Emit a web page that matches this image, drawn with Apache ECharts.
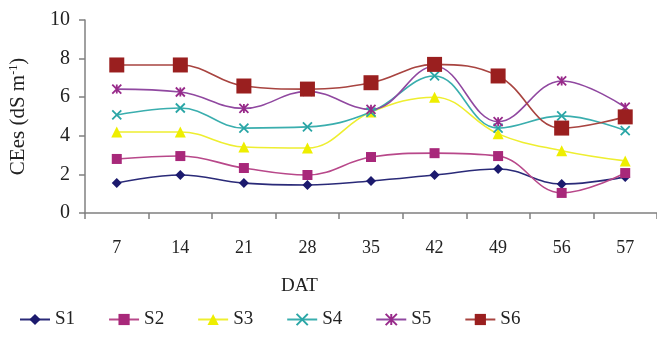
<!DOCTYPE html>
<html><head><meta charset="utf-8">
<script src="https://cdn.jsdelivr.net/npm/echarts@6/dist/echarts.min.js"></script>
<style>html,body{margin:0;padding:0;background:#fff}#c{width:657px;height:337px}</style>
</head><body><div id="c"></div>
<script>
const categories = ['7','14','21','28','35','42','49','56','57'];
const S1 = [1.55, 1.97, 1.55, 1.45, 1.66, 1.97, 2.28, 1.5, 1.87];
const S2 = [2.8, 2.95, 2.33, 1.97, 2.9, 3.1, 2.95, 1.04, 2.07];
const S3 = [4.2, 4.2, 3.42, 3.37, 5.23, 6.0, 4.1, 3.23, 2.7];
const S4 = [5.08, 5.44, 4.4, 4.46, 5.23, 7.1, 4.4, 5.03, 4.27];
const S5 = [6.42, 6.27, 5.42, 6.3, 5.37, 7.6, 4.73, 6.84, 5.48];
const S6 = [7.67, 7.67, 6.58, 6.42, 6.75, 7.7, 7.1, 4.4, 4.98];
const yTicks = [0, 2, 4, 6, 8, 10];
const xTitle = 'DAT';

const font = 'Liberation Serif';
const X = 'path://M0,0L10,10M10,0L0,10';
const AST = 'path://M0,0L10,10M10,0L0,10M5,0L5,10';

function s(name, data, lineColor, markColor, symbol, size, stroke) {
  return {
    name, type: 'line', data, smooth: 0.4,
    symbol, symbolSize: size,
    lineStyle: { color: lineColor, width: 1.6 },
    itemStyle: stroke
      ? { color: markColor, borderColor: markColor, borderWidth: 1.8 }
      : { color: markColor, borderWidth: 0 },
    z: 2
  };
}

const chart = echarts.init(document.getElementById('c'), null, { renderer: 'canvas' });
chart.setOption({
  animation: false,
  backgroundColor: '#fff',
  textStyle: { fontFamily: font },
  grid: { left: 85, top: 20, width: 576, height: 193, containLabel: false },
  legend: {
    left: 19, top: 310, padding: 0, itemWidth: 30, itemHeight: 14, itemGap: 33,
    textStyle: { fontFamily: font, fontSize: 19, color: '#222' },
    data: ['S1','S2','S3','S4','S5','S6']
  },
  graphic: [{
    type: 'text', left: 281, top: 277,
    style: { text: xTitle, fontFamily: font, fontSize: 19, fill: '#222' }
  }],
  xAxis: {
    type: 'category', data: categories, boundaryGap: true,
    axisLine: { lineStyle: { color: '#808080', width: 1.5 } },
    axisTick: { show: true, alignWithLabel: false, length: 6, lineStyle: { color: '#808080', width: 1.5 } },
    axisLabel: { fontFamily: font, fontSize: 18, color: '#222', margin: 26 }
  },
  yAxis: {
    type: 'value', min: yTicks[0], max: yTicks[yTicks.length - 1], interval: 2,
    name: 'CEes (dS m{sup|-1})', nameLocation: 'middle', nameGap: 56,
    nameTextStyle: {
      fontFamily: font, fontSize: 21, color: '#222',
      rich: { sup: { fontFamily: font, fontSize: 12, color: '#222', verticalAlign: 'top', padding: [0, 0, 9, 0] } }
    },
    splitLine: { show: false },
    axisLine: { show: true, lineStyle: { color: '#808080', width: 1.5 } },
    axisTick: { show: true, length: 6, lineStyle: { color: '#808080', width: 1.5 } },
    axisLabel: { fontFamily: font, fontSize: 20, color: '#222', margin: 15 }
  },
  series: [
    s('S1', S1, '#2a2a78', '#1c1a6e', 'diamond', 10, false),
    s('S2', S2, '#b8488a', '#a8287a', 'rect', 10, false),
    s('S3', S3, '#eeee30', '#eeee00', 'triangle', 11, false),
    s('S4', S4, '#3aaeae', '#2aa6a6', X, 9, true),
    s('S5', S5, '#9048a0', '#982a8a', AST, 9, true),
    s('S6', S6, '#a84440', '#9a1f1f', 'rect', 15, false)
  ]
});
</script></body></html>
